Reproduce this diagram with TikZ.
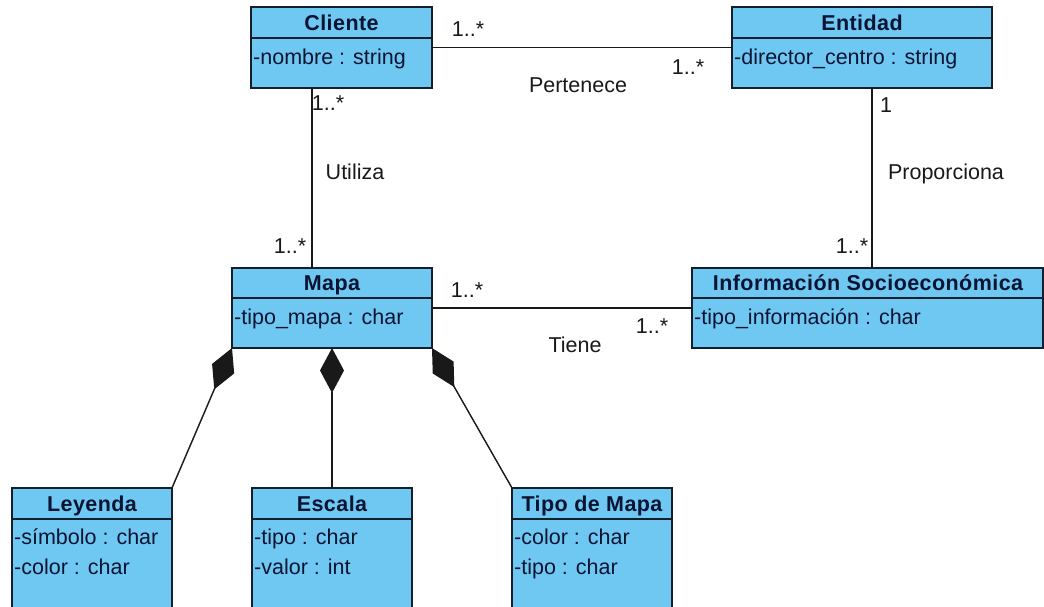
\documentclass[tikz,border=0pt]{standalone}
\usepackage{fontspec}
\setmainfont{Liberation Sans}
\usetikzlibrary{arrows.meta}
\definecolor{clsfill}{RGB}{110,200,242}
\definecolor{clsline}{RGB}{20,30,45}
\definecolor{clstext}{RGB}{10,20,50}
\tikzset{
 cls/.style={draw=clsline, fill=clsfill, line width=1.5pt, anchor=north west, inner sep=0pt, outer sep=0pt},
 divider/.style={draw=clsline, line width=1.5pt},
 hdr/.style={font=\fontsize{21.5}{25}\selectfont\bfseries\addfontfeature{LetterSpace=2}, text=clstext, inner sep=0pt, text height=15.5pt, text depth=0pt},
 attr/.style={font=\fontsize{21.5}{25}\selectfont, text=clstext, anchor=west, inner sep=0pt, text height=13.5pt, text depth=0pt},
 lbl/.style={font=\fontsize{21.5}{25}\selectfont, text=black!90, inner sep=0pt, text height=14pt, text depth=0pt},
 assoc/.style={draw=black!90, line width=1.4pt},
 comp/.style={assoc, -{Diamond[length=45pt,width=24pt]}},
}
\begin{document}
\begin{tikzpicture}[x=1pt,y=-1pt]
\useasboundingbox (0,0) rectangle (1044,607);
\fill[white] (0,0) rectangle (1044,607);
\clip (0,0) rectangle (1044,607);
% ---------- classes ----------
\node[cls, minimum width=181pt, minimum height=81pt] (cliente) at (251,7) {};
\draw[divider] (251,38) -- (432,38);
\node[hdr] (cliente-h) at (341.5,22.5) {Cliente};
\node[attr] (cliente-a1) at (253,58) {-nombre : string};

\node[cls, minimum width=260pt, minimum height=81pt] (entidad) at (732,7) {};
\draw[divider] (732,38) -- (992,38);
\node[hdr] (entidad-h) at (862,22.5) {Entidad};
\node[attr] (entidad-a1) at (734,58) {-director\_centro : string};

\node[cls, minimum width=200pt, minimum height=80pt] (mapa) at (232,268) {};
\draw[divider] (232,298) -- (432,298);
\node[hdr] (mapa-h) at (332,283) {Mapa};
\node[attr] (mapa-a1) at (234,318) {-tipo\_mapa : char};

\node[cls, minimum width=351pt, minimum height=80pt] (info) at (692,268) {};
\draw[divider] (692,298) -- (1043,298);
\node[hdr] (info-h) at (868,283) {Información Socioeconómica};
\node[attr] (info-a1) at (694,318) {-tipo\_información : char};

\node[cls, minimum width=160pt, minimum height=140pt] (leyenda) at (12,488) {};
\draw[divider] (12,519) -- (172,519);
\node[hdr] (leyenda-h) at (92,503.5) {Leyenda};
\node[attr] (leyenda-a1) at (14,538) {-símbolo : char};
\node[attr] (leyenda-a2) at (14,568) {-color : char};

\node[cls, minimum width=160pt, minimum height=140pt] (escala) at (252,488) {};
\draw[divider] (252,519) -- (412,519);
\node[hdr] (escala-h) at (332,503.5) {Escala};
\node[attr] (escala-a1) at (254,538) {-tipo : char};
\node[attr] (escala-a2) at (254,568) {-valor : int};

\node[cls, minimum width=160pt, minimum height=140pt] (tipomapa) at (512,488) {};
\draw[divider] (512,519) -- (672,519);
\node[hdr] (tipomapa-h) at (592,503.5) {Tipo de Mapa};
\node[attr] (tipomapa-a1) at (514,538) {-color : char};
\node[attr] (tipomapa-a2) at (514,568) {-tipo : char};

% ---------- connectors ----------
\coordinate (xcm) at (312,0);
\coordinate (xei) at (872,0);
\draw[assoc] (cliente.east) -- (entidad.west);
\draw[assoc] (mapa.east) -- (info.west);
\draw[assoc] (cliente.south -| xcm) -- (mapa.north -| xcm);
\draw[assoc] (entidad.south -| xei) -- (info.north -| xei);
\draw[comp] (leyenda.north east) -- (mapa.south west);
\draw[comp] (escala.north) -- (mapa.south);
\draw[comp] (tipomapa.north west) -- (mapa.south east);

% ---------- labels ----------
\node[lbl] (l1) at (468,30) {1..*};
\node[lbl] (l2) at (688,68) {1..*};
\node[lbl] (l3) at (578,86) {Pertenece};
\node[lbl] (l4) at (328,104) {1..*};
\node[lbl] (l5) at (355,172) {Utiliza};
\node[lbl] (l6) at (290,246) {1..*};
\node[lbl] (l7) at (886,106) {1};
\node[lbl] (l8) at (946,172) {Proporciona};
\node[lbl] (l9) at (852,246) {1..*};
\node[lbl] (l10) at (467,290) {1..*};
\node[lbl] (l11) at (652,326) {1..*};
\node[lbl] (l12) at (575,345) {Tiene};
\end{tikzpicture}
\end{document}
